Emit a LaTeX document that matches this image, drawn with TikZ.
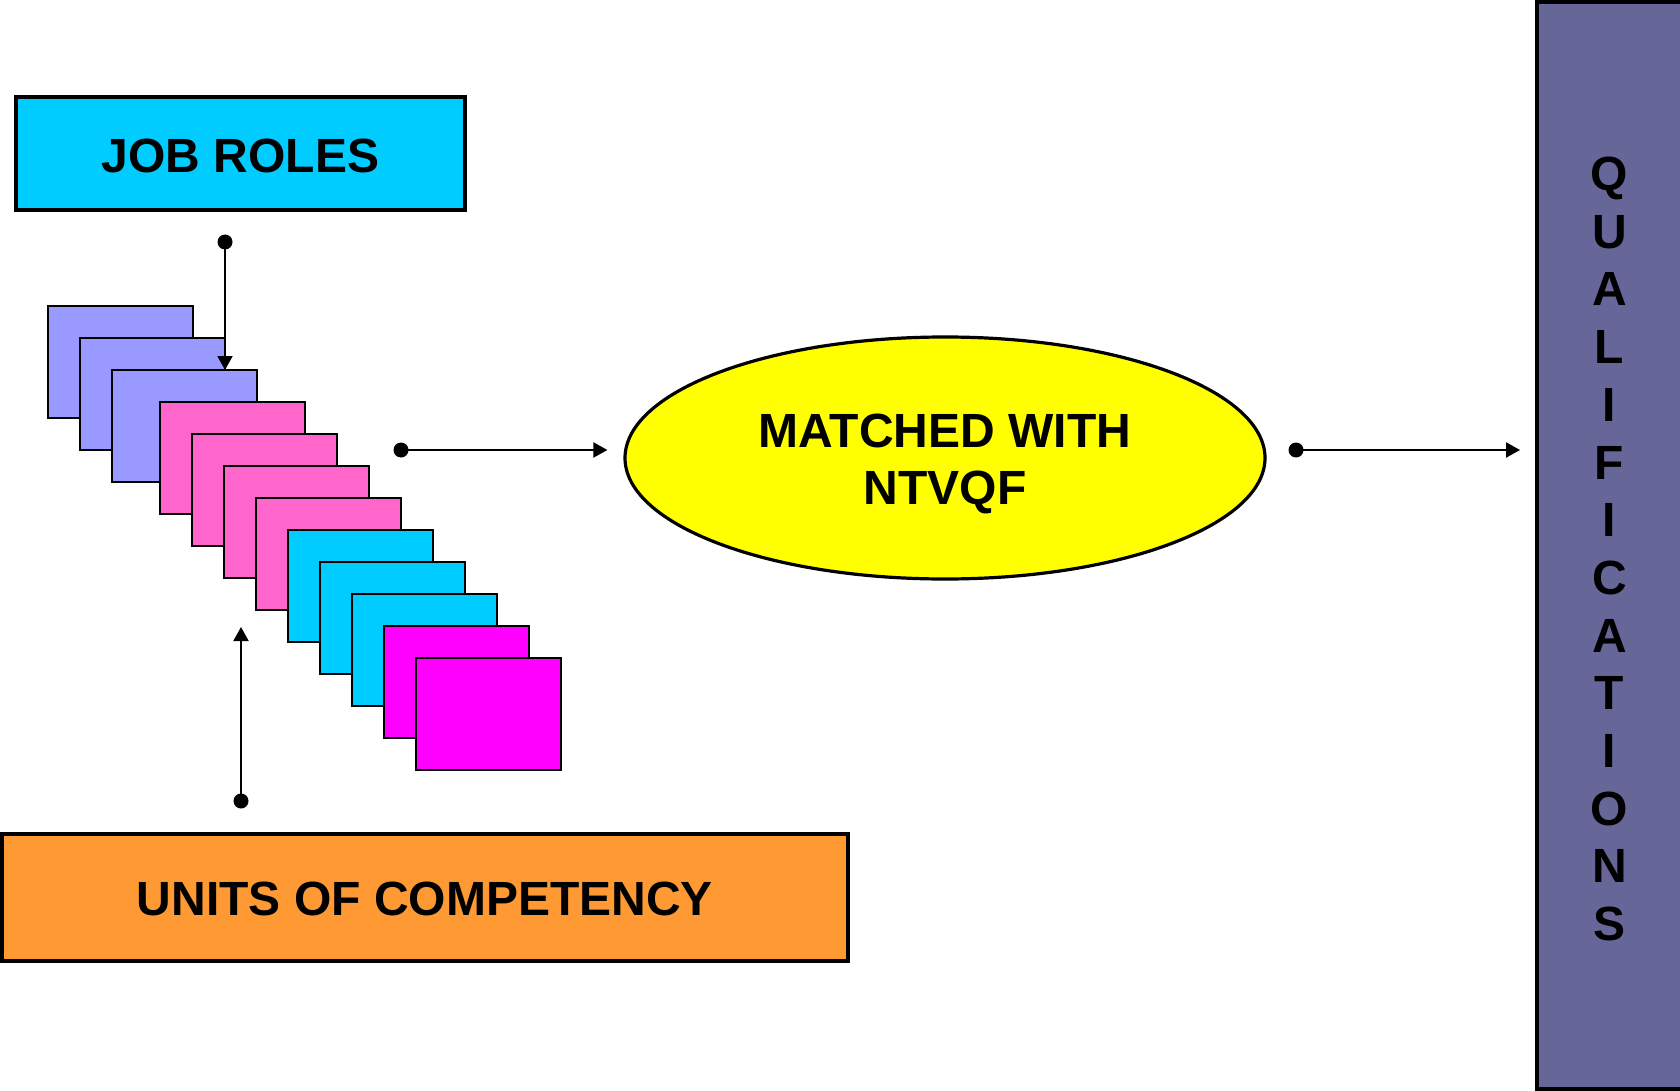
\documentclass[tikz,border=0pt]{standalone}
\usepackage{fontspec}
\setmainfont{Liberation Sans}
\usetikzlibrary{arrows.meta,shapes.geometric}

\definecolor{skyfill}{HTML}{00CCFF}
\definecolor{lavfill}{HTML}{9999FF}
\definecolor{pinkfill}{HTML}{FF66CC}
\definecolor{magfill}{HTML}{FF00FF}
\definecolor{orangefill}{HTML}{FF9933}
\definecolor{barfill}{HTML}{666699}
\definecolor{ovalfill}{HTML}{FFFF00}

\begin{document}
\begin{tikzpicture}[x=0.5pt,y=-0.5pt,
  font=\fontsize{24pt}{28.5pt}\selectfont\bfseries,
  card/.style={draw=black, line width=1pt, minimum width=72.5pt,
    minimum height=56pt, inner sep=0pt, outer sep=0pt, anchor=north west},
  framebox/.style={draw=black, inner sep=0pt, outer sep=0pt},
  link/.style={line width=1pt, -{Triangle[length=7pt,width=7.5pt]}}]

\useasboundingbox (0,0) rectangle (1680,1091);

% heading boxes (the struts set the text a little below centre)
\node[framebox, line width=1.6pt, fill=skyfill, minimum width=224.5pt,
  minimum height=56.5pt] (jobroles) at (240.5,153.5)
  {\rule{0pt}{19.7pt}JOB ROLES};
\node[framebox, line width=1.8pt, fill=orangefill, minimum width=423pt,
  minimum height=63.5pt] (units) at (425,897.5)
  {\rule{0pt}{18.6pt}UNITS OF COMPETENCY};

% stacked cards: job roles, then units
\node[card, fill=lavfill] (card1) at (48,306) {};
\node[card, fill=lavfill] (card2) at (80,338) {};
\node[card, fill=lavfill] (card3) at (112,370) {};
\node[card, fill=pinkfill] (card4) at (160,402) {};
\node[card, fill=pinkfill] (card5) at (192,434) {};
\node[card, fill=pinkfill] (card6) at (224,466) {};
\node[card, fill=pinkfill] (card7) at (256,498) {};
\node[card, fill=skyfill] (card8) at (288,530) {};
\node[card, fill=skyfill] (card9) at (320,562) {};
\node[card, fill=skyfill] (card10) at (352,594) {};
\node[card, fill=magfill] (card11) at (384,626) {};
\node[card, fill=magfill] (card12) at (416,658) {};

% matching step
\node[ellipse, draw=black, line width=1.6pt, fill=ovalfill,
  minimum width=320pt, minimum height=121pt, inner sep=0pt,
  align=center] (matched) at (945,458)
  {\rule{0pt}{23pt}MATCHED WITH\\NTVQF};

% qualifications bar
\node[framebox, line width=2pt, fill=barfill, minimum width=72.5pt,
  minimum height=543.5pt, align=center,
  font=\fontsize{24pt}{28.85pt}\selectfont\bfseries] (quals) at (1609.5,545.5)
  {\rule{0pt}{20.3pt}Q\\U\\A\\L\\I\\F\\I\\C\\A\\T\\I\\O\\N\\S};

% connector end points
\coordinate (jrdot) at (225,242);
\coordinate (ucdot) at (241,801);
\coordinate (uptip) at (241,627);
\coordinate (ldot) at (401,450);
\coordinate (rdot) at (1296,450);

% connectors
\draw[link] (jrdot) -- (jrdot |- card3.north);
\draw[link] (ucdot) -- (uptip);
\draw[link] (ldot) -- ([xshift=-8pt]ldot -| matched.west);
\draw[link] (rdot) -- ([xshift=-8.5pt]rdot -| quals.west);

\foreach \p in {jrdot,ucdot,ldot,rdot}
  \fill[black] (\p) circle (3.75pt);
\end{tikzpicture}
\end{document}
